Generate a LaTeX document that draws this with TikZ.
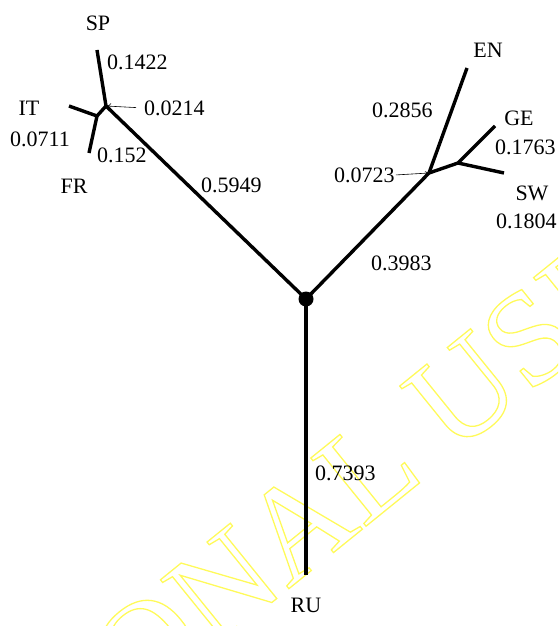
\documentclass[tikz,border=0pt]{standalone}
\usepackage{fontspec}
\setmainfont{Liberation Serif}
\usetikzlibrary{arrows.meta}
\definecolor{wmyellow}{RGB}{255,250,90}
\newcommand{\outlinetext}[1]{\special{pdf:literal direct 1 Tr 1.3 w}#1\special{pdf:literal direct 0 Tr}}
\begin{document}
\begin{tikzpicture}[x=1pt,y=-1pt,
  branch/.style={line width=3.4pt},
  pointer/.style={line width=0.6pt},
  lbl/.style={font=\fontsize{22}{24}\selectfont, inner sep=0pt},
  wm/.style={font=\fontsize{134}{134}\selectfont, inner sep=0pt, text=wmyellow}
  ]
\useasboundingbox (0,0) rectangle (558,626);
\begin{scope}
\clip (0,0) rectangle (558,626);
\node[wm, rotate=39] (watermark) at (366,470) {\outlinetext{ONAL USE}};
\end{scope}
% tree points
\node[circle, fill=black, inner sep=0pt, minimum size=15pt] (root) at (306,299) {};
\coordinate (rom) at (106,106);
\coordinate (itfr) at (97,116);
\coordinate (sp) at (97,50);
\coordinate (it) at (69,106);
\coordinate (fr) at (89,153);
\coordinate (ger) at (429,173);
\coordinate (gesw) at (458,163);
\coordinate (en) at (467,68);
\coordinate (ge) at (495,126);
\coordinate (sw) at (504,173);
\coordinate (ru) at (306,575);
% branches
\draw[branch] (root.center) -- (rom);
\draw[branch] (rom) -- (sp);
\draw[branch] (rom) -- (itfr);
\draw[branch] (itfr) -- (it);
\draw[branch] (itfr) -- (fr);
\draw[branch] (root.center) -- (ger);
\draw[branch] (ger) -- (en);
\draw[branch] (ger) -- (gesw);
\draw[branch] (gesw) -- (ge);
\draw[branch] (gesw) -- (sw);
\draw[branch] (root.center) -- (ru);
% labels
\node[lbl] (lsp) at (98,23) {SP};
\node[lbl, anchor=west] (l1422) at (107,62) {0.1422};
\node[lbl] (lit) at (29,108) {IT};
\node[lbl, anchor=west] (l0711) at (10,139) {0.0711};
\node[lbl, anchor=west] (l152) at (97,155) {0.152};
\node[lbl] (lfr) at (74,186) {FR};
\node[lbl, anchor=west] (l0214) at (144,108) {0.0214};
\node[lbl, anchor=west] (l5949) at (201,185) {0.5949};
\node[lbl] (len) at (488,50) {EN};
\node[lbl, anchor=west] (l2856) at (372,110) {0.2856};
\node[lbl] (lge) at (519,118) {GE};
\node[lbl, anchor=west] (l1763) at (495,147) {0.1763};
\node[lbl] (lsw) at (532,193) {SW};
\node[lbl, anchor=west] (l1804) at (496,221) {0.1804};
\node[lbl, anchor=west] (l0723) at (334,175) {0.0723};
\node[lbl, anchor=west] (l3983) at (371,263) {0.3983};
\node[lbl, anchor=west] (l7393) at (315,473) {0.7393};
\node[lbl] (lru) at (306,605) {RU};
% pointers
\draw[pointer, -{To[length=4pt,width=6pt]}, shorten <=8pt, shorten >=1pt] (l0214.west) -- (rom);
\draw[pointer, -{To[length=3pt,width=4pt]}, shorten <=1pt, shorten >=1pt] (l0723.east) -- (ger);
\end{tikzpicture}
\end{document}
